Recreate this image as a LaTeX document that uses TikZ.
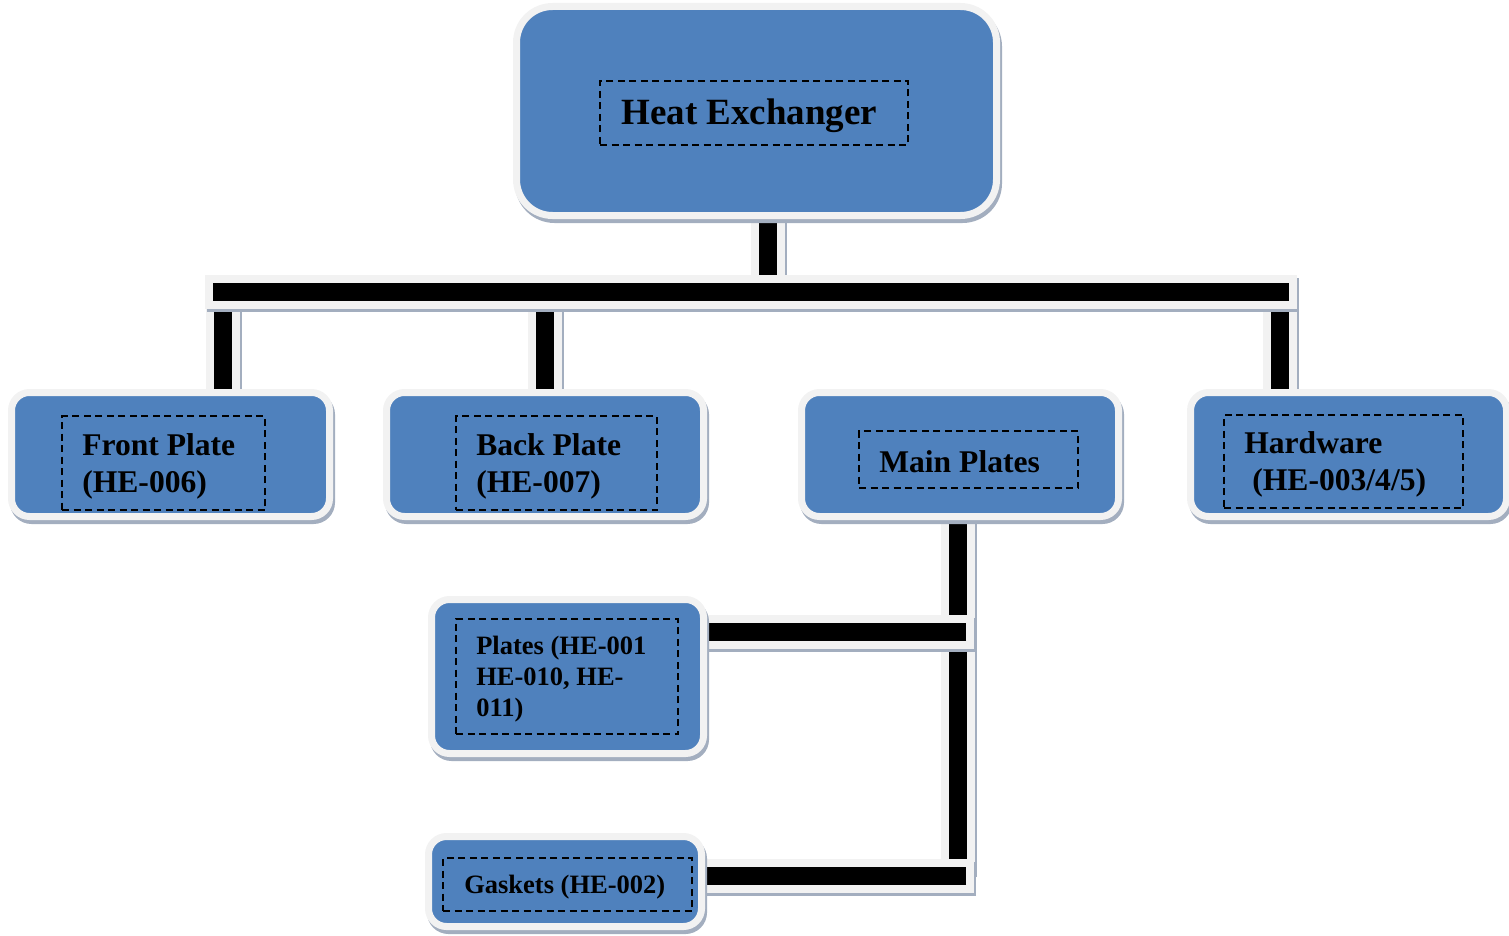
\documentclass[tikz,border=0pt]{standalone}
\usepackage{fontspec}
\setmainfont{Liberation Serif}
\usetikzlibrary{fit}
\usetikzlibrary{backgrounds}

\definecolor{boxblue}{HTML}{4F81BD}
\definecolor{rim}{HTML}{F2F2F2}
\definecolor{shade}{HTML}{A3AEBF}

\tikzset{
  part/.style={fill=boxblue, draw=rim, line width=7pt, rounded corners=18pt, inner sep=3.5pt,
    preaction={fill=shade, draw=shade, line width=7pt, transform canvas={shift={(2pt,-4pt)}}}},
  tag/.style={draw, dash pattern=on 7pt off 4.5pt, line width=1.8pt, inner sep=0pt},
  txt/.style={anchor=west, align=left, inner sep=0pt},
  big/.style={font=\fontsize{37}{44}\selectfont\bfseries},
  mid/.style={font=\fontsize{31.6}{37}\selectfont\bfseries},
  low/.style={font=\fontsize{26.5}{31}\selectfont\bfseries},
  conn/.style={draw=black, line width=18pt,
    preaction={draw=shade, line width=34pt, shorten <=-8pt, shorten >=-8pt,
      transform canvas={shift={(2pt,-3pt)}}},
    preaction={draw=rim, line width=34pt, shorten <=-8pt, shorten >=-8pt}}
}

\begin{document}
\begin{tikzpicture}[x=1pt,y=-1pt]
  \useasboundingbox (0,0) rectangle (1509,936);
  %%%%%%%%%%%%%%% boxes
  \node[part, rounded corners=36pt, fit={(520,10) (993,212)}] (he) {};
  \node[part, fit={(15,396) (326,513)}] (fp) {};
  \node[part, fit={(390,396) (700,513)}] (bp) {};
  \node[part, fit={(805,396) (1115,513)}] (mp) {};
  \node[part, fit={(1194,396) (1503,513)}] (hw) {};
  \node[part, fit={(435,603) (700,750)}] (pl) {};
  \node[part, fit={(432,840) (698,923)}] (gk) {};
  %%%%%%%%%%%%%%% dashed frames
  \node[tag, fit={(600,81) (908,145)}] (het) {};
  \node[tag, fit={(62,416) (265,510)}] (fpt) {};
  \node[tag, fit={(456,416) (657,510)}] (bpt) {};
  \node[tag, fit={(859,431) (1078,488)}] (mpt) {};
  \node[tag, fit={(1224,415) (1463,508)}] (hwt) {};
  \node[tag, fit={(456,619) (678,734)}] (plt) {};
  \node[tag, fit={(443,858) (692,911)}] (gkt) {};
  %%%%%%%%%%%%%%% texts
  \node[txt, big] at ([xshift=22pt, yshift=-3pt]het.west) {Heat Exchanger};
  \node[txt, mid] at ([xshift=21pt, yshift=-3pt]fpt.west) {Front Plate\\(HE-006)};
  \node[txt, mid] at ([xshift=21pt, yshift=-3pt]bpt.west) {Back Plate\\(HE-007)};
  \node[txt, mid] at ([xshift=21pt, yshift=-2pt]mpt.west) {Main Plates};
  \node[txt, mid] at ([xshift=21pt, yshift=-3pt]hwt.west) {Hardware\\\hspace*{8pt}(HE-003/4/5)};
  \node[txt, low] at ([xshift=21pt, yshift=-3pt]plt.west) {Plates (HE-001\\HE-010, HE-\\011)};
  \node[txt, low] at ([xshift=22pt, yshift=-3pt]gkt.west) {Gaskets (HE-002)};
  %%%%%%%%%%%%%%% connectors
  \coordinate (top) at (768,276);
  \coordinate (busL) at (213,292);
  \coordinate (busR) at (1289,292);
  \coordinate (d1) at (222.5,309);
  \coordinate (d2) at (545,309);
  \coordinate (d3) at (1280,309);
  \coordinate (k0) at (957.5,866);
  \coordinate (k1) at (966,632);
  \coordinate (k2) at (966,876);
  \begin{pgfonlayer}{background}
    \draw[conn] (he.south -| top) -- (top);
    \draw[conn] (d1) -- (d1 |- fp.north);
    \draw[conn] (d2) -- (d2 |- bp.north);
    \draw[conn] (d3) -- (d3 |- hw.north);
    \draw[conn] (busL) -- (busR);
    \draw[conn] (mp.south -| k0) -- (k0);
    \draw[conn] (k1) -- (k1 -| pl.east);
    \draw[conn] (k2) -- (k2 -| gk.east);
  \end{pgfonlayer}
\end{tikzpicture}
\end{document}
